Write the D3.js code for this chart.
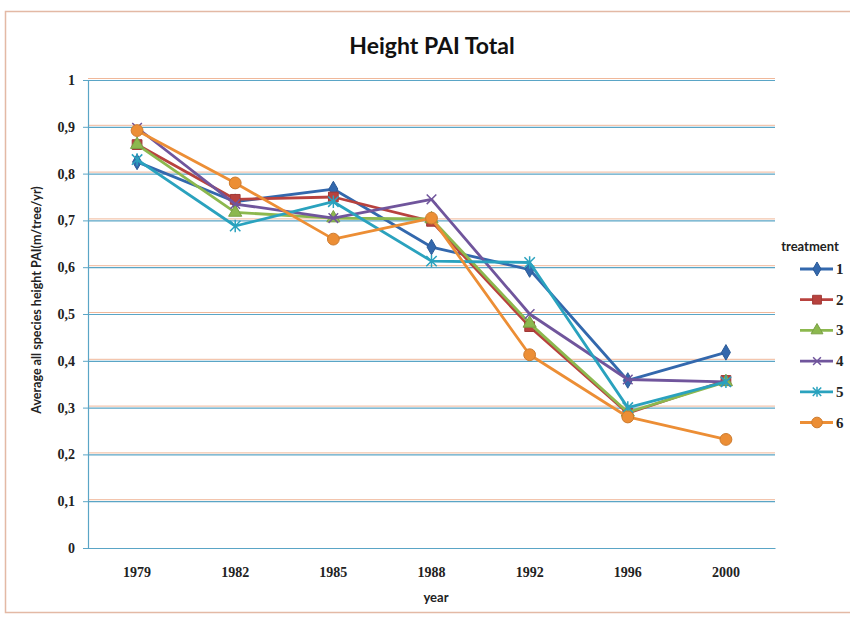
<!DOCTYPE html>
<html>
<head>
<meta charset="utf-8">
<script src="https://cdn.jsdelivr.net/npm/d3@7"></script>
<style>
  body { margin: 0; background: #fff; overflow: hidden; }
  svg { display: block; }
  text { font-family: Lato, "Open Sans", sans-serif; }
  text.serif { font-family: "Liberation Serif", "DejaVu Serif", serif; }
</style>
</head>
<body>
<svg id="chart" width="850" height="619"></svg>
<script>
// data
const years = ["1979", "1982", "1985", "1988", "1992", "1996", "2000"];
const treatments = ["1", "2", "3", "4", "5", "6"];
const t1 = [0.825, 0.740, 0.767, 0.643, 0.595, 0.358, 0.418];
const t2 = [0.862, 0.745, 0.750, 0.698, 0.473, 0.288, 0.358];
const t3 = [0.862, 0.717, 0.705, 0.703, 0.480, 0.290, 0.355];
const t4 = [0.898, 0.735, 0.705, 0.745, 0.500, 0.360, 0.355];
const t5 = [0.830, 0.688, 0.740, 0.613, 0.610, 0.300, 0.355];
const t6 = [0.892, 0.780, 0.660, 0.705, 0.413, 0.280, 0.232];
const yTicks = [0, 0.1, 0.2, 0.3, 0.4, 0.5, 0.6, 0.7, 0.8, 0.9, 1];

const colors = ["#3368ad", "#b8423e", "#8cb84e", "#70559c", "#2aa2be", "#ec8e35"];
const shapes = ["diamond", "square", "triangle", "cross", "star", "circle"];

const series = [t1, t2, t3, t4, t5, t6].map((v, i) => ({
    name: treatments[i], values: v, color: colors[i], shape: shapes[i]
}));

const svg = d3.select("#chart");
const plotL = 88, plotR = 775, plotT = 80, plotB = 548;

const x = d3.scaleBand().domain(years).range([plotL, plotR]);
const y = d3.scaleLinear().domain([0, 1]).range([plotB, plotT]);
const fmt = d => d === 0 ? "0" : d === 1 ? "1" : d3.format(".1f")(d).replace(".", ",");

// outer frame
svg.append("rect")
    .attr("x", 5.5).attr("y", 11.5)
    .attr("width", 900).attr("height", 601)
    .attr("fill", "#fff")
    .attr("stroke", "#e3b9a5").attr("stroke-width", 1.5);

// title
svg.append("text")
    .attr("x", 432).attr("y", 54)
    .attr("text-anchor", "middle")
    .attr("font-size", 23).attr("font-weight", "bold")
    .attr("fill", "#111")
    .text("Height PAI Total");

// gridlines (blue with faint orange shadow)
const grid = svg.append("g");
grid.selectAll(".gshadow").data(yTicks.slice(1)).enter().append("line")
    .attr("x1", plotL).attr("x2", plotR)
    .attr("y1", d => y(d) - 1.5).attr("y2", d => y(d) - 1.5)
    .attr("stroke", "#f0b89a").attr("stroke-width", 1);
grid.selectAll(".gline").data(yTicks.slice(1)).enter().append("line")
    .attr("x1", plotL).attr("x2", plotR)
    .attr("y1", d => y(d) + 0.5).attr("y2", d => y(d) + 0.5)
    .attr("stroke", "#5aa5c6").attr("stroke-width", 1.2);

// y axis
const yAxis = svg.append("g")
    .attr("transform", `translate(${plotL},0)`)
    .call(d3.axisLeft(y).tickValues(yTicks).tickFormat(fmt).tickSize(5).tickPadding(8));
yAxis.select(".domain").attr("stroke", "#5aa5c6").attr("stroke-width", 1.2);
yAxis.selectAll(".tick line").attr("stroke", "#5aa5c6");
yAxis.selectAll("text")
    .attr("class", "serif")
    .attr("font-size", 14).attr("font-weight", "bold").attr("fill", "#222");

// x axis
const xAxis = svg.append("g")
    .attr("transform", `translate(0,${plotB})`)
    .call(d3.axisBottom(x).tickSize(0).tickPadding(19));
xAxis.select(".domain").attr("stroke", "#5aa5c6").attr("stroke-width", 1.2);
xAxis.selectAll("text")
    .attr("class", "serif")
    .attr("font-size", 14).attr("font-weight", "bold").attr("fill", "#222");

// axis titles
svg.append("text")
    .attr("x", 436).attr("y", 602)
    .attr("text-anchor", "middle")
    .attr("font-size", 13).attr("font-weight", "bold").attr("fill", "#222")
    .text("year");
svg.append("text")
    .attr("transform", "translate(41,300) rotate(-90)")
    .attr("text-anchor", "middle")
    .attr("font-size", 12.5).attr("font-weight", "bold").attr("fill", "#222")
    .text("Average all species height PAI(m/tree/yr)");

// marker drawing
function marker(g, shape, color, size) {
    if (shape === "cross") {
        const s = size * 0.6;
        g.append("path").attr("d", `M${-s},${-s}L${s},${s}M${-s},${s}L${s},${-s}`)
            .attr("stroke", color).attr("stroke-width", 1.5).attr("fill", "none");
    } else if (shape === "star") {
        const s = size * 0.65;
        g.append("path").attr("d", `M${-s},${-s}L${s},${s}M${-s},${s}L${s},${-s}M0,${-s * 1.2}L0,${s * 1.2}`)
            .attr("stroke", color).attr("stroke-width", 1.5).attr("fill", "none");
    } else {
        const type = {
            diamond: d3.symbolDiamond, square: d3.symbolSquare,
            triangle: d3.symbolTriangle, circle: d3.symbolCircle
        }[shape];
        const area = { diamond: 70, square: 95, triangle: 75, circle: 110 }[shape] * size / 8;
        g.append("path").attr("d", d3.symbol().type(type).size(area)())
            .attr("fill", color)
            .attr("stroke", d3.color(color).darker(0.4)).attr("stroke-width", 1);
    }
}

const line = d3.line()
    .x((d, i) => x(years[i]) + x.bandwidth() / 2)
    .y(d => y(d));

const plot = svg.append("g");
series.forEach(s => {
    plot.append("path")
        .attr("d", line(s.values))
        .attr("fill", "none")
        .attr("stroke", s.color).attr("stroke-width", 2.8)
        .attr("stroke-linejoin", "round");
    s.values.forEach((v, i) => {
        const g = plot.append("g")
            .attr("transform", `translate(${x(years[i]) + x.bandwidth() / 2},${y(v)})`);
        marker(g, s.shape, s.color, 8);
    });
});

// legend
const legend = svg.append("g");
legend.append("text")
    .attr("x", 810).attr("y", 251)
    .attr("text-anchor", "middle")
    .attr("font-size", 13).attr("font-weight", "bold").attr("fill", "#222")
    .text("treatment");
series.forEach((s, i) => {
    const ly = 269 + i * 30.7;
    const g = legend.append("g");
    g.append("line")
        .attr("x1", 800).attr("x2", 833)
        .attr("y1", ly).attr("y2", ly)
        .attr("stroke", s.color).attr("stroke-width", 2.8);
    marker(g.append("g").attr("transform", `translate(817,${ly})`), s.shape, s.color, 6.5);
    g.append("text")
        .attr("class", "serif")
        .attr("x", 836).attr("y", ly + 5)
        .attr("font-size", 15).attr("font-weight", "bold").attr("fill", "#222")
        .text(s.name);
});
</script>
</body>
</html>
